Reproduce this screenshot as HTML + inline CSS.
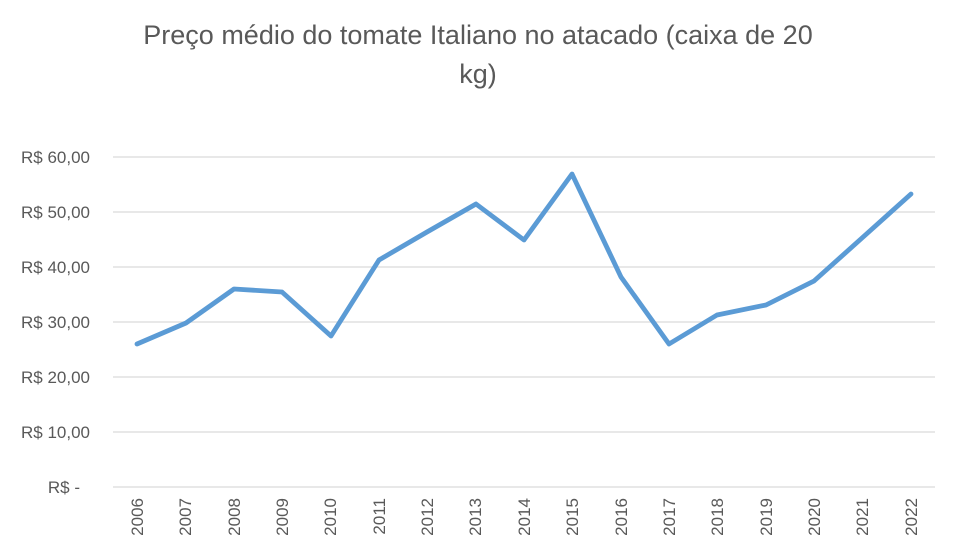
<!DOCTYPE html>
<html><head><meta charset="utf-8"><style>
html,body{margin:0;padding:0;background:#fff;}
svg{display:block;font-family:"Liberation Sans",Calibri,sans-serif;}
</style></head><body>
<svg width="957" height="556" viewBox="0 0 957 556" xmlns="http://www.w3.org/2000/svg">
<rect width="957" height="556" fill="#fff"/>
<g fill="#595959" font-size="27" text-anchor="middle">
<text x="478" y="44">Preço médio do tomate Italiano no atacado (caixa de 20</text>
<text x="478" y="83">kg)</text>
</g>
<g stroke="#d9d9d9" stroke-width="1.3">
<line x1="113" x2="935" y1="157" y2="157"/>
<line x1="113" x2="935" y1="212" y2="212"/>
<line x1="113" x2="935" y1="267" y2="267"/>
<line x1="113" x2="935" y1="322" y2="322"/>
<line x1="113" x2="935" y1="377" y2="377"/>
<line x1="113" x2="935" y1="432" y2="432"/>
<line x1="113" x2="935" y1="487" y2="487"/>
</g>
<g fill="#595959" font-size="17" text-anchor="end">
<text x="90" y="163">R$ 60,00</text>
<text x="90" y="218">R$ 50,00</text>
<text x="90" y="273">R$ 40,00</text>
<text x="90" y="328">R$ 30,00</text>
<text x="90" y="383">R$ 20,00</text>
<text x="90" y="438">R$ 10,00</text>
<text x="80" y="493">R$ -</text>
</g>
<g fill="#595959" font-size="17" text-anchor="end">
<text transform="translate(143,498) rotate(-90)">2006</text>
<text transform="translate(191,498) rotate(-90)">2007</text>
<text transform="translate(240,498) rotate(-90)">2008</text>
<text transform="translate(288,498) rotate(-90)">2009</text>
<text transform="translate(336,498) rotate(-90)">2010</text>
<text transform="translate(385,498) rotate(-90)">2011</text>
<text transform="translate(433,498) rotate(-90)">2012</text>
<text transform="translate(481,498) rotate(-90)">2013</text>
<text transform="translate(530,498) rotate(-90)">2014</text>
<text transform="translate(578,498) rotate(-90)">2015</text>
<text transform="translate(627,498) rotate(-90)">2016</text>
<text transform="translate(675,498) rotate(-90)">2017</text>
<text transform="translate(723,498) rotate(-90)">2018</text>
<text transform="translate(772,498) rotate(-90)">2019</text>
<text transform="translate(820,498) rotate(-90)">2020</text>
<text transform="translate(868,498) rotate(-90)">2021</text>
<text transform="translate(917,498) rotate(-90)">2022</text>
</g>
<polyline fill="none" stroke="#5b9bd5" stroke-width="4.8" stroke-linejoin="round" stroke-linecap="round"
points="137,344 186,323 234,289 282,292 331,336 379,260 427,232 476,204 524,240 572,174 621,277 669,344 717,315 766,305 814,281 862,238 911,194"/>
</svg>
</body></html>
